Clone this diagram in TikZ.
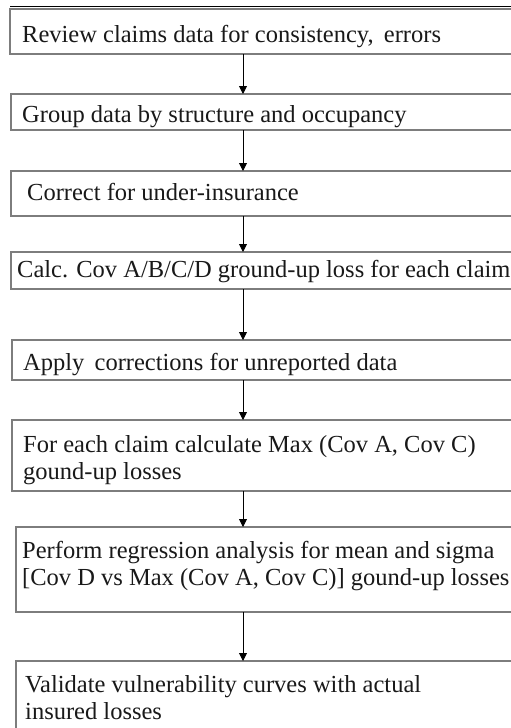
\documentclass[tikz,border=0pt]{standalone}
\usepackage{fontspec}
\setmainfont{Liberation Serif}
\usetikzlibrary{arrows.meta}

\definecolor{boxline}{RGB}{125,125,125}
\definecolor{ink}{RGB}{25,25,25}

\tikzset{
  stepbox/.style={draw=boxline, line width=1.4pt, fill=white, anchor=north west,
                  inner sep=0pt, outer sep=0pt, minimum width=560pt},
  steptext/.style={anchor=north west, inner sep=0pt, text=ink, align=left,
                   font=\fontsize{24.5}{27}\selectfont},
  flow/.style={draw=black, line width=0.9pt,
               -{Triangle[length=8pt,width=8pt]}}
}

\begin{document}
\begin{tikzpicture}[x=1pt, y=-1pt]
  \useasboundingbox (0,0) rectangle (511,728);
  \clip (0,0) rectangle (511,728);
  \fill[white] (0,0) rectangle (511,728);

  % column of the connecting arrows
  \coordinate (ax) at (243,0);

  % process boxes (they run past the right margin)
  \node[stepbox, minimum height=45pt] (b1) at (10,9)   {};
  \node[stepbox, minimum height=36pt] (b2) at (11,94)  {};
  \node[stepbox, minimum height=45pt] (b3) at (11,171) {};
  \node[stepbox, minimum height=37pt] (b4) at (11,252) {};
  \node[stepbox, minimum height=40pt] (b5) at (12,340) {};
  \node[stepbox, minimum height=71pt] (b6) at (12,420) {};
  \node[stepbox, minimum height=85pt] (b7) at (16,527) {};
  \node[stepbox, minimum height=90pt] (b8) at (16,661) {};

  % heavy rule over the first box
  \draw[black, line width=1.3pt] ([yshift=2.6pt]b1.north west) -- ([yshift=2.6pt]b1.north east);

  % box texts
  \node[steptext] (t1) at (22,25.3)  {Review claims data for consistency,\, errors};
  \node[steptext] (t2) at (22,105.3) {Group data by structure and occupancy};
  \node[steptext] (t3) at (27,183.3) {Correct for under-insurance};
  \node[steptext] (t4) at (17,260.3) {Calc. Cov A/B/C/D ground-up loss for each claim};
  \node[steptext] (t5) at (23,353.3) {Apply\, corrections for unreported data};
  \node[steptext] (t6) at (23,435.3) {For each claim calculate Max (Cov A, Cov C)\\gound-up losses};
  \node[steptext] (t7) at (22,541.3) {Perform regression analysis for mean and sigma\\{[}Cov D vs Max (Cov A, Cov C)] gound-up losses};
  \node[steptext] (t8) at (25,675.3) {Validate vulnerability curves with actual\\insured losses};

  % connectors
  \draw[flow] (b1.south -| ax) -- (b2.north -| ax);
  \draw[flow] (b2.south -| ax) -- (b3.north -| ax);
  \draw[flow] (b3.south -| ax) -- (b4.north -| ax);
  \draw[flow] (b4.south -| ax) -- (b5.north -| ax);
  \draw[flow] (b5.south -| ax) -- (b6.north -| ax);
  \draw[flow] (b6.south -| ax) -- (b7.north -| ax);
  \draw[flow] (b7.south -| ax) -- (b8.north -| ax);
\end{tikzpicture}
\end{document}
